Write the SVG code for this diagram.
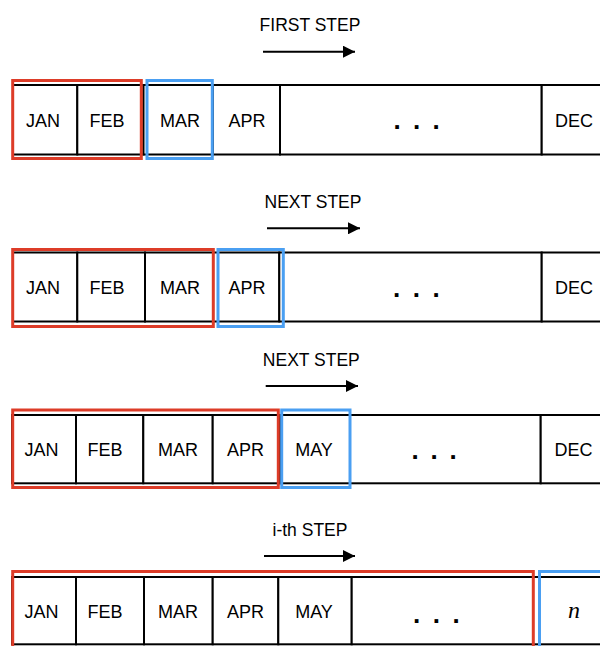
<svg xmlns="http://www.w3.org/2000/svg" width="600" height="646" viewBox="0 0 600 646">
<style>
.cell{fill:#fff;stroke:#000;stroke-width:2}
.lbl{font-family:"Liberation Sans",Arial,sans-serif;font-size:18px;fill:#000;text-anchor:middle}
.hdr{font-family:"Liberation Sans",Arial,sans-serif;font-size:17.5px;fill:#000;text-anchor:middle}
.dots{font-family:"Liberation Sans",Arial,sans-serif;font-size:26px;font-weight:bold;fill:#000}
.nvar{font-family:"Liberation Serif","Times New Roman",serif;font-size:24px;font-style:italic;fill:#000;text-anchor:middle}
.red{fill:none;stroke:#DD3C28;stroke-width:3}
.blue{fill:none;stroke:#4A9FF2;stroke-width:3}
.arr{stroke:#000;stroke-width:2;fill:none}
</style>
<defs>
<marker id="ah" viewBox="0 0 12 12" refX="12" refY="6" markerWidth="12" markerHeight="12" markerUnits="userSpaceOnUse" orient="auto">
<path d="M0,0 L12,6 L0,12 Z" fill="#000"/>
</marker>
</defs>

<!-- Row 1 -->
<g id="row1">
<g id="r1-jan"><rect class="cell" x="13" y="85" width="64.3" height="69.5"/><text class="lbl" x="43" y="127">JAN</text></g>
<g id="r1-feb"><rect class="cell" x="77.3" y="85" width="66.2" height="69.5"/><text class="lbl" x="107" y="127">FEB</text></g>
<g id="r1-mar"><rect class="cell" x="143.5" y="85" width="69.5" height="69.5"/><text class="lbl" x="180" y="127">MAR</text></g>
<g id="r1-apr"><rect class="cell" x="213" y="85" width="67" height="69.5"/><text class="lbl" x="247" y="127">APR</text></g>
<g id="r1-dots"><rect class="cell" x="280" y="85" width="261.7" height="69.5"/><text class="dots" x="393.4 412.9 432.4" y="128.5">...</text></g>
<g id="r1-dec"><rect class="cell" x="541.7" y="85" width="62" height="69.5"/><text class="lbl" x="574" y="127">DEC</text></g>
<rect id="r1-red" class="red" x="12.7" y="80.5" width="128.6" height="78"/>
<rect id="r1-blue" class="blue" x="147" y="80.5" width="65.3" height="78"/>
<text class="hdr" x="310" y="30.5">FIRST STEP</text>
</g>

<!-- Row 2 -->
<g id="row2">
<g id="r2-jan"><rect class="cell" x="13" y="252.5" width="64.3" height="69"/><text class="lbl" x="43" y="294">JAN</text></g>
<g id="r2-feb"><rect class="cell" x="77.3" y="252.5" width="67.7" height="69"/><text class="lbl" x="107" y="294">FEB</text></g>
<g id="r2-mar"><rect class="cell" x="145" y="252.5" width="68" height="69"/><text class="lbl" x="180" y="294">MAR</text></g>
<g id="r2-apr"><rect class="cell" x="213" y="252.5" width="66.3" height="69"/><text class="lbl" x="247" y="294">APR</text></g>
<g id="r2-dots"><rect class="cell" x="279.3" y="252.5" width="262.4" height="69"/><text class="dots" x="393.1 412.7 432.4" y="297">...</text></g>
<g id="r2-dec"><rect class="cell" x="541.7" y="252.5" width="62" height="69"/><text class="lbl" x="574" y="294">DEC</text></g>
<rect id="r2-red" class="red" x="12.7" y="249.5" width="200.6" height="77"/>
<rect id="r2-blue" class="blue" x="218" y="249.5" width="65.3" height="77"/>
<text class="hdr" x="313" y="207.5">NEXT STEP</text>
</g>

<!-- Row 3 -->
<g id="row3">
<g id="r3-jan"><rect class="cell" x="12" y="415" width="64" height="68.3"/><text class="lbl" x="41.5" y="456">JAN</text></g>
<g id="r3-feb"><rect class="cell" x="76" y="415" width="67.3" height="68.3"/><text class="lbl" x="105" y="456">FEB</text></g>
<g id="r3-mar"><rect class="cell" x="143.3" y="415" width="69.4" height="68.3"/><text class="lbl" x="178" y="456">MAR</text></g>
<g id="r3-apr"><rect class="cell" x="212.7" y="415" width="67.3" height="68.3"/><text class="lbl" x="245.5" y="456">APR</text></g>
<g id="r3-may"><rect class="cell" x="280" y="415" width="70" height="68.3"/><text class="lbl" x="314" y="456">MAY</text></g>
<g id="r3-dots"><rect class="cell" x="350" y="415" width="190.7" height="68.3"/><text class="dots" x="411.4 430.4 449.4" y="458.5">...</text></g>
<g id="r3-dec"><rect class="cell" x="540.7" y="415" width="63" height="68.3"/><text class="lbl" x="573.5" y="456">DEC</text></g>
<rect id="r3-red" class="red" x="12.7" y="410" width="265.6" height="77.5"/>
<rect id="r3-blue" class="blue" x="281.7" y="410" width="68.3" height="77.5"/>
<text class="hdr" x="311.3" y="365.5">NEXT STEP</text>
</g>

<!-- Row 4 -->
<g id="row4">
<g id="r4-jan"><rect class="cell" x="12" y="577" width="64" height="67.3"/><text class="lbl" x="41.5" y="617.5">JAN</text></g>
<g id="r4-feb"><rect class="cell" x="76" y="577" width="68" height="67.3"/><text class="lbl" x="105" y="617.5">FEB</text></g>
<g id="r4-mar"><rect class="cell" x="144" y="577" width="68.7" height="67.3"/><text class="lbl" x="178" y="617.5">MAR</text></g>
<g id="r4-apr"><rect class="cell" x="212.7" y="577" width="65.6" height="67.3"/><text class="lbl" x="245.5" y="617.5">APR</text></g>
<g id="r4-may"><rect class="cell" x="278.3" y="577" width="73.4" height="67.3"/><text class="lbl" x="314" y="617.5">MAY</text></g>
<g id="r4-dots"><rect class="cell" x="351.7" y="577" width="187.3" height="67.3"/><text class="dots" x="413.1 432.7 452.4" y="622.5">...</text></g>
<g id="r4-n"><rect class="cell" x="539" y="577" width="64.7" height="67.3"/><text class="nvar" x="574" y="618">n</text></g>
<rect id="r4-red" class="red" x="12.7" y="571.5" width="520.6" height="80"/>
<rect id="r4-blue" class="blue" x="539.5" y="571.5" width="70" height="80"/>
<text class="hdr" x="310" y="535.5">i-th STEP</text>
</g>

<g id="connectors">
<line class="arr" x1="263" y1="51.7" x2="355" y2="51.7" marker-end="url(#ah)"/>
<line class="arr" x1="267" y1="228.3" x2="360" y2="228.3" marker-end="url(#ah)"/>
<line class="arr" x1="265.7" y1="386" x2="358" y2="386" marker-end="url(#ah)"/>
<line class="arr" x1="264" y1="556" x2="355" y2="556" marker-end="url(#ah)"/>
</g>
</svg>
